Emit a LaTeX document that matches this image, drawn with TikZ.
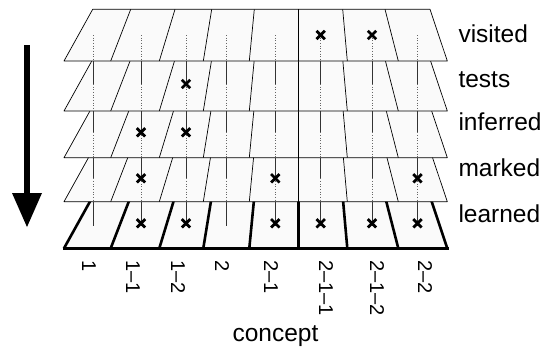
\documentclass[tikz,border=0pt]{standalone}
\usepackage{fontspec}
\setmainfont{Liberation Sans}
\usetikzlibrary{calc}
\begin{document}
\begin{tikzpicture}[x=1pt,y=-1pt,
  layerfill/.style={fill=white!98!black},
  layeredge/.style={draw=black, line width=0.7pt, line join=round},
  thickedge/.style={draw=black, line width=2.6pt, line join=miter},
  solidseg/.style={draw=black!80, line width=0.75pt},
  dotseg/.style={draw=black!60, line width=0.65pt, dotted},
  xmark/.style={draw=black, line width=2.8pt},
  lbl/.style={anchor=base west, inner sep=0, font=\fontsize{24.5}{28}\selectfont},
  clbl/.style={rotate=-90, anchor=west, inner sep=0, font=\fontsize{20}{24}\selectfont}]

\useasboundingbox (0,0) rectangle (545,349);

% ---- bottom layer (learned), thick outline ----
\fill[layerfill] (92.7,196.6) -- (430,196.6) -- (447.3,248.3) -- (64,248.3) -- cycle;
\foreach \tx/\bx in {92.7/64,130.7/110.7,175/159.3,211.7/203.3,254.3/249.3,298.3/298.3,342.7/347.3,385/398.3,430/447.3}
  \draw[thickedge] (\tx,196.6) -- (\bx,248.3);
\draw[thickedge] (62.7,248.3) -- (448.6,248.3);

% ---- other layers, from bottom to top ----
\foreach \b in {201.7,157.7,111,61}{
  \pgfmathsetmacro\t{\b-51.7}
  \fill[layerfill] (92.7,\t) -- (430,\t) -- (447.3,\b) -- (64,\b) -- cycle;
  \foreach \tx/\bx in {130.7/110.7,175/159.3,211.7/203.3,254.3/249.3,298.3/298.3,342.7/347.3,385/398.3}
    \draw[layeredge] (\tx,\t) -- (\bx,\b);
  \draw[layeredge] (92.7,\t) -- (430,\t) -- (447.3,\b) -- (64,\b) -- cycle;
}

% ---- vertical column lines ----
\foreach \x in {93.3,141,186,226.7,275.3,320.7,372,417.5}{
  \draw[dotseg] (\x,35) -- (\x,61);
  \draw[solidseg] (\x,61) -- (\x,84);
  \draw[dotseg] (\x,84) -- (\x,111);
  \draw[solidseg] (\x,111) -- (\x,132.3);
  \draw[dotseg] (\x,132.3) -- (\x,157.7);
  \draw[solidseg] (\x,157.7) -- (\x,178.3);
  \draw[dotseg] (\x,178.3) -- (\x,201.7);
  \draw[solidseg] (\x,201.7) -- (\x,226);
}

% ---- crosses ----
\foreach \x/\y in {320.7/35,372/35,
                   186/84,
                   141/132.3,186/132.3,
                   141/178.3,275.3/178.3,417.5/178.3,
                   141/223.3,186/223.3,275.3/223.3,320.7/223.3,372/223.3,417.5/223.3}{
  \draw[xmark] ($(\x,\y)+(-4.2,-4.2)$) -- ($(\x,\y)+(4.2,4.2)$);
  \draw[xmark] ($(\x,\y)+(-4.2,4.2)$) -- ($(\x,\y)+(4.2,-4.2)$);
}

% ---- layer labels ----
\node[lbl] (visited)  at (458.3,42.7)  {visited};
\node[lbl] (tests)    at (458.3,87.3)  {tests};
\node[lbl] (inferred) at (458.3,130.3) {inferred};
\node[lbl] (marked)   at (458.3,176.7) {marked};
\node[lbl] (learned)  at (458.3,222.7) {learned};

% ---- concept labels ----
\node[clbl] (c1)   at (89,260)  {1};
\node[clbl] (c11)  at (133,260) {1–1};
\node[clbl] (c12)  at (178,260) {1–2};
\node[clbl] (c2)   at (222,260) {2};
\node[clbl] (c21)  at (271,260) {2–1};
\node[clbl] (c211) at (326,260) {2–1–1};
\node[clbl] (c212) at (377,260) {2–1–2};
\node[clbl] (c22)  at (425,260) {2–2};
\node[anchor=base, inner sep=0, font=\fontsize{24.5}{28}\selectfont] (concept) at (275.5,341.7) {concept};

% ---- direction arrow ----
\coordinate (arrtop) at (27,45);
\coordinate (arrtip) at (27,227);
\fill[black] ($(arrtop)+(-3,0)$) rectangle ($(arrtip)+(3,-33)$);
\fill[black] ($(arrtip)+(-15,-34)$) -- ($(arrtip)+(15,-34)$) -- (arrtip) -- cycle;
\end{tikzpicture}
\end{document}
